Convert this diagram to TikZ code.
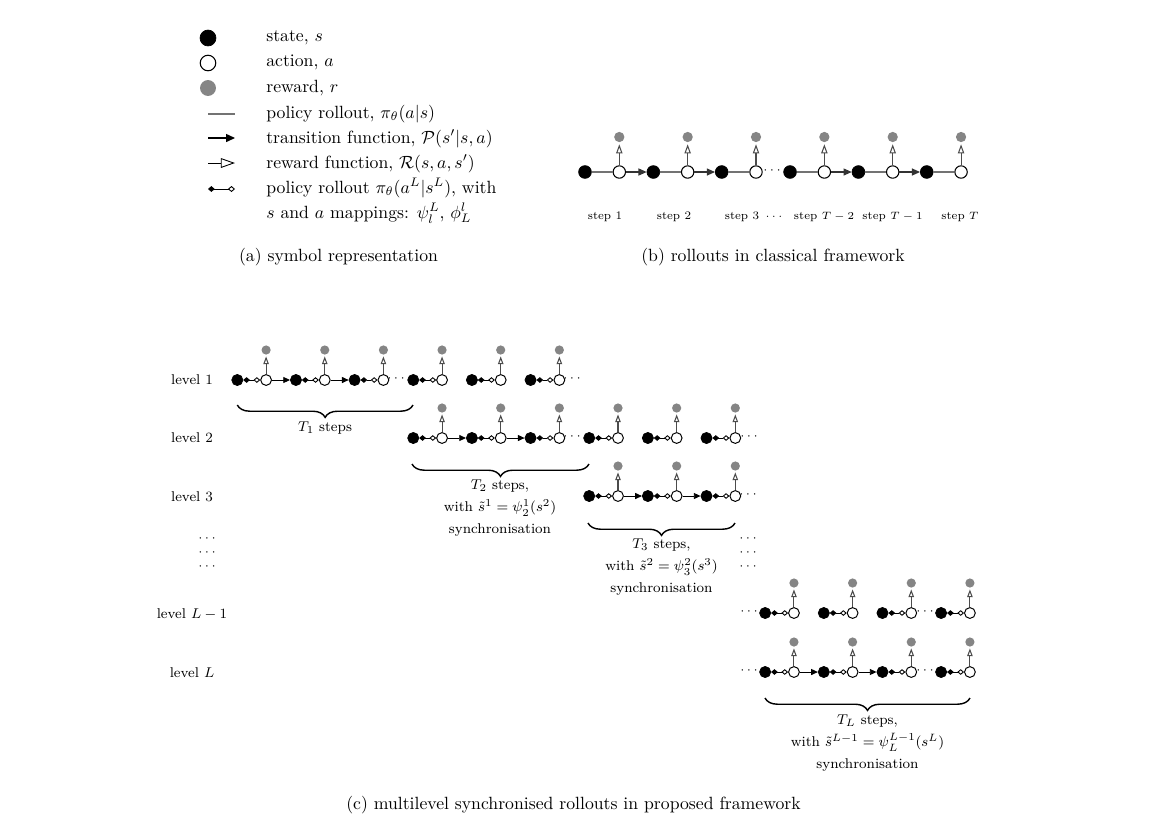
\documentclass[tikz,border=0pt]{standalone}
\usetikzlibrary{arrows.meta,decorations.pathreplacing}
\definecolor{rewgray}{gray}{0.52}
\definecolor{rollgray}{gray}{0.45}

% one step of a multilevel rollout: state, action and reward on grid column #2
\newcommand{\rlunit}[3]{%
  \pgfmathsetmacro{\ux}{237.3+58.65*#2}%
  \node[stc] (#1s#2) at (\ux,#3) {};
  \node[acc] (#1a#2) at (\ux+28.8,#3) {};
  \node[rwc] (#1r#2) at (\ux+28.8,#3-30) {};
  \draw[mapC] (#1s#2) -- (#1a#2);
  \draw[rewC] (#1a#2) -- (#1r#2);
}

\begin{document}
\begin{tikzpicture}[x=0.565pt,y=-0.565pt,
  % legend symbols
  stl/.style={circle,fill=black,draw=black,inner sep=0pt,minimum size=9pt},
  acl/.style={circle,fill=white,draw=black,line width=0.6pt,inner sep=0pt,minimum size=8.8pt},
  rwl/.style={circle,fill=rewgray,inner sep=0pt,minimum size=9pt},
  % classical framework
  stb/.style={circle,fill=black,draw=black,inner sep=0pt,minimum size=7.2pt},
  acb/.style={circle,fill=white,draw=black,line width=0.6pt,inner sep=0pt,minimum size=7pt},
  rwb/.style={circle,fill=rewgray,inner sep=0pt,minimum size=5.8pt},
  % multilevel framework
  stc/.style={circle,fill=black,draw=black,inner sep=0pt,minimum size=6.3pt},
  acc/.style={circle,fill=white,draw=black,line width=0.55pt,inner sep=0pt,minimum size=6.1pt},
  rwc/.style={circle,fill=rewgray,inner sep=0pt,minimum size=5.2pt},
  % connectors
  rollB/.style={draw=rollgray,line width=0.9pt},
  transB/.style={draw=black!80,line width=0.6pt,-{Triangle[length=4.6pt,width=4pt]}},
  rewB/.style={draw=black!70,line width=0.6pt,-{Triangle[open,length=5.2pt,width=3.6pt]},shorten >=1pt},
  mapC/.style={draw=black,line width=0.5pt,{Diamond[length=3.8pt,width=3.2pt]}-{Diamond[open,length=3.8pt,width=3.2pt]}},
  transC/.style={draw=black,line width=0.5pt,-{Triangle[length=3.8pt,width=3.4pt]}},
  rewC/.style={draw=black!70,line width=0.6pt,-{Triangle[open,length=4.4pt,width=3.1pt]},shorten >=0.8pt},
  brc/.style={decorate,decoration={brace,mirror,amplitude=7pt},line width=0.8pt},
  lgtext/.style={anchor=base west,inner sep=0pt},
  dotsn/.style={inner sep=0pt,font=\fontsize{7}{8}\selectfont},
  lvl/.style={font=\footnotesize,inner sep=0pt},
  stepl/.style={font=\fontsize{6.5}{7.5}\selectfont,inner sep=0pt},
  brtext/.style={font=\footnotesize,align=center,inner sep=0pt},
]
\useasboundingbox (0,0) rectangle (1170,832);

% ---------------- (a) symbols ----------------
\node[stl] (lgs) at (208,38) {};
\node[acl] (lga) at (208,63) {};
\node[rwl] (lgr) at (208,88) {};
\coordinate (lp1) at (208,114); \coordinate (lp2) at (235,114);
\draw[rollB] (lp1) -- (lp2);
\coordinate (lt1) at (208,138); \coordinate (lt2) at (235,138);
\draw[black,line width=0.6pt,-{Triangle[length=5pt,width=4.5pt]}] (lt1) -- (lt2);
\coordinate (lr1) at (208,163); \coordinate (lr2) at (235,163);
\draw[black,line width=0.5pt,-{Triangle[open,length=8pt,width=5.5pt]}] (lr1) -- (lr2);
\coordinate (lm1) at (208,189); \coordinate (lm2) at (235,189);
\draw[black,line width=0.5pt,{Diamond[length=3.8pt,width=3.3pt]}-{Diamond[open,length=4pt,width=3.4pt]}] (lm1) -- (lm2);

\node[lgtext] (tx1) at (266,41) {state, $s$};
\node[lgtext] (tx2) at (266,66) {action, $a$};
\node[lgtext] (tx3) at (266,92) {reward, $r$};
\node[lgtext] (tx4) at (266,118) {policy rollout, $\pi_\theta(a|s)$};
\node[lgtext] (tx5) at (266,143) {transition function, $\mathcal{P}(s'|s,a)$};
\node[lgtext] (tx6) at (266,168) {reward function, $\mathcal{R}(s,a,s')$};
\node[lgtext] (tx7) at (266,193) {policy rollout $\pi_\theta(a^L|s^L)$, with};
\node[lgtext] (tx8) at (266,218) {$s$ and $a$ mappings: $\psi_l^L$, $\phi_L^l$};

\node (capa) at (338.5,257) {(a) symbol representation};

% ---------------- (b) classical rollouts ----------------
\foreach \i in {1,...,6}{
  \pgfmathsetmacro{\xs}{585+68.35*(\i-1)}
  \node[stb] (bs\i) at (\xs,172) {};
  \node[acb] (ba\i) at (\xs+34.3,172) {};
  \node[rwb] (br\i) at (\xs+34.3,137) {};
  \draw[rollB] (bs\i) -- (ba\i);
  \draw[rewB] (ba\i) -- (br\i);
}
\foreach \i/\j in {1/2,2/3,4/5,5/6} \draw[transB] (ba\i) -- (bs\j);
\node[dotsn] (bdots) at (772,171) {$\cdots$};

\node[stepl] (st1) at (605,216.5) {step 1};
\node[stepl] (st2) at (674,216.5) {step 2};
\node[stepl] (st3) at (742,216.5) {step 3};
\node[stepl] (stdots) at (774,216.5) {$\cdots$};
\node[stepl] (st4) at (824,216.5) {step $T-2$};
\node[stepl] (st5) at (892.5,216.5) {step $T-1$};
\node[stepl] (st6) at (960,216.5) {step $T$};

\node (capb) at (773,257) {(b) rollouts in classical framework};

% ---------------- (c) multilevel rollouts ----------------
\node[lvl] (lv1) at (192,380) {level 1};
\node[lvl] (lv2) at (192,438) {level 2};
\node[lvl] (lv3) at (192,497) {level 3};
\node[dotsn] (lvd1) at (207,539) {$\cdots$};
\node[dotsn] (lvd2) at (207,553) {$\cdots$};
\node[dotsn] (lvd3) at (207,567) {$\cdots$};
\node[lvl] (lvLm) at (192,614) {level $L-1$};
\node[lvl] (lvL) at (192,673) {level $L$};

% level 1
\foreach \k in {0,...,5} {\rlunit{lone}{\k}{380}}
\foreach \i/\j in {0/1,1/2} \draw[transC] (lonea\i) -- (lones\j);
\node[dotsn] (oned1) at (396,379) {$\cdots$};
\node[dotsn] (oned2) at (572,379) {$\cdots$};

% level 2
\foreach \k in {3,...,8} {\rlunit{ltwo}{\k}{438}}
\foreach \i/\j in {3/4,4/5} \draw[transC] (ltwoa\i) -- (ltwos\j);
\node[dotsn] (twod1) at (572,437) {$\cdots$};
\node[dotsn] (twod2) at (749,437) {$\cdots$};

% level 3
\foreach \k in {6,...,8} {\rlunit{lthr}{\k}{496}}
\foreach \i/\j in {6/7,7/8} \draw[transC] (lthra\i) -- (lthrs\j);
\node[dotsn] (thrd1) at (748,495) {$\cdots$};

% column of dots
\node[dotsn] (cd1) at (748,539) {$\cdots$};
\node[dotsn] (cd2) at (748,553) {$\cdots$};
\node[dotsn] (cd3) at (748,567) {$\cdots$};

% level L-1
\foreach \k in {9,...,12} {\rlunit{lpen}{\k}{613}}
\node[dotsn] (pend1) at (749,612) {$\cdots$};
\node[dotsn] (pend2) at (925,612) {$\cdots$};

% level L
\foreach \k in {9,...,12} {\rlunit{llast}{\k}{672}}
\foreach \i/\j in {9/10,10/11} \draw[transC] (llasta\i) -- (llasts\j);
\node[dotsn] (lastd1) at (749,671) {$\cdots$};
\node[dotsn] (lastd2) at (925,671) {$\cdots$};

% braces
\coordinate (bo1) at (237.3,405); \coordinate (bo2) at (413,405);
\draw[brc] (bo1) -- (bo2);
\node[brtext] (bot) at (325,428) {$T_1$ steps};

\coordinate (bt1) at (412,464); \coordinate (bt2) at (589,464);
\draw[brc] (bt1) -- (bt2);
\node[brtext] (btt) at (500,508) {$T_2$ steps,\\[3pt] with $\tilde{s}^1 = \psi_2^1(s^2)$\\[3pt] synchronisation};

\coordinate (bh1) at (588,523); \coordinate (bh2) at (735,523);
\draw[brc] (bh1) -- (bh2);
\node[brtext] (bht) at (661.5,567) {$T_3$ steps,\\[3pt] with $\tilde{s}^2 = \psi_3^2(s^3)$\\[3pt] synchronisation};

\coordinate (bl1) at (765,698); \coordinate (bl2) at (970,698);
\draw[brc] (bl1) -- (bl2);
\node[brtext] (blt) at (867.5,743) {$T_L$ steps,\\[3pt] with $\tilde{s}^{L-1} = \psi_L^{L-1}(s^L)$\\[3pt] synchronisation};

\node (capc) at (573.5,805) {(c) multilevel synchronised rollouts in proposed framework};
\end{tikzpicture}
\end{document}
